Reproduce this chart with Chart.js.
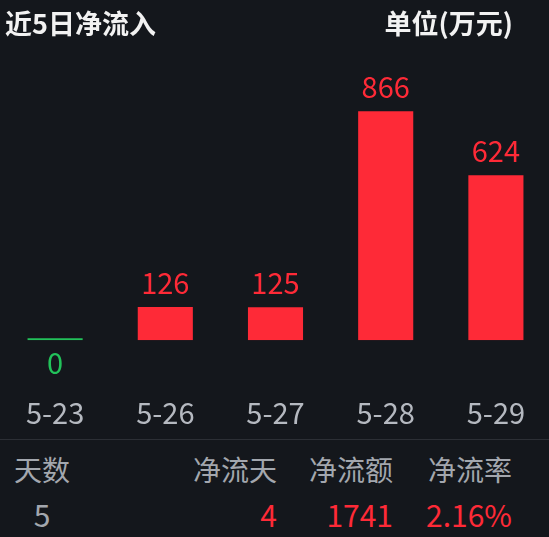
<!DOCTYPE html>
<html>
<head>
<meta charset="utf-8">
<script src="https://cdn.jsdelivr.net/npm/chart.js@4"></script>
<style>
html,body{margin:0;padding:0;background:#14171c;width:549px;height:537px;overflow:hidden;}
body{position:relative;font-family:"Noto Sans CJK SC","Noto Sans",sans-serif;}
#wrap{position:absolute;left:0;top:0;width:551px;height:440px;}
.t{position:absolute;white-space:nowrap;}
#title{left:5px;top:8px;line-height:30px;font-size:27px;font-weight:bold;color:#f2f2f2;}
#unit{right:36px;top:8px;line-height:30px;font-size:27px;font-weight:bold;color:#f2f2f2;}
#sep{position:absolute;left:0;top:439px;width:549px;height:1px;background:#2c2f35;}
.h{top:455px;line-height:29px;font-size:28px;color:#a3a7ae;}
.v{top:498px;line-height:32px;font-size:30px;}
</style>
</head>
<body>
<div id="wrap"><canvas id="c" width="551" height="440"></canvas></div>
<div id="title" class="t"></div>
<div id="unit" class="t"></div>
<div id="sep"></div>
<div id="table"></div>
<script>
// ---- data ----
const titleText = "近5日净流入";
const unitText = "单位(万元)";
const categories = ["5-23", "5-26", "5-27", "5-28", "5-29"];
const netInflow = [0, 126, 125, 866, 624];
const tableHeaders = ["天数", "净流天", "净流额", "净流率"];
const tableValues = ["5", "4", "1741", "2.16%"];

const RED = "#fe2a37";
const GREEN = "#22c25a";
const GRAY = "#b5b9c0";

document.getElementById("title").textContent = titleText;
document.getElementById("unit").textContent = unitText;

// table
const colDefs = [
  {style:"left:0px;width:84px;text-align:center;", color:"#a3a7ae"},
  {style:"right:272px;text-align:right;", color:RED},
  {style:"right:156px;text-align:right;", color:RED},
  {style:"right:37px;text-align:right;", color:RED}
];
const table = document.getElementById("table");
tableHeaders.forEach((h,i)=>{
  const d=document.createElement("div");
  d.className="t h"; d.style.cssText += colDefs[i].style; d.textContent=h;
  table.appendChild(d);
  const v=document.createElement("div");
  v.className="t v"; v.style.cssText += colDefs[i].style; v.style.color=colDefs[i].color; v.textContent=tableValues[i];
  table.appendChild(v);
});

const valueLabels = {
  id:"valueLabels",
  afterDatasetsDraw(chart){
    const ctx=chart.ctx;
    const meta=chart.getDatasetMeta(0);
    const base=chart.scales.y.getPixelForValue(0);
    ctx.save();
    ctx.font='29px "Noto Sans CJK SC","Noto Sans",sans-serif';
    ctx.textAlign="center";
    ctx.textBaseline="alphabetic";
    meta.data.forEach((bar,i)=>{
      const v=netInflow[i];
      if(v>0){
        ctx.fillStyle=RED;
        ctx.fillText(String(v), bar.x, bar.y-13);
      } else {
        ctx.fillStyle=GREEN;
        ctx.fillText(String(v), bar.x, Math.max(bar.y,base)+34);
      }
    });
    ctx.restore();
  }
};

new Chart(document.getElementById("c"),{
  type:"bar",
  data:{
    labels:categories,
    datasets:[{
      data:netInflow,
      backgroundColor:netInflow.map(v=>v>0?RED:GREEN),
      minBarLength:2,
      categoryPercentage:1,
      barPercentage:0.5,
      borderWidth:0
    }]
  },
  options:{
    responsive:false,
    animation:false,
    devicePixelRatio:1,
    layout:{padding:{top:60,left:0,right:0,bottom:5}},
    plugins:{legend:{display:false},tooltip:{enabled:false},title:{display:false}},
    scales:{
      x:{
        grid:{display:false,drawTicks:true,tickLength:50},
        border:{display:false},
        ticks:{color:GRAY,font:{family:'"Noto Sans CJK SC","Noto Sans",sans-serif',size:29},padding:5}
      },
      y:{display:false,min:0,max:1060}
    }
  },
  plugins:[valueLabels]
});
</script>
</body>
</html>
